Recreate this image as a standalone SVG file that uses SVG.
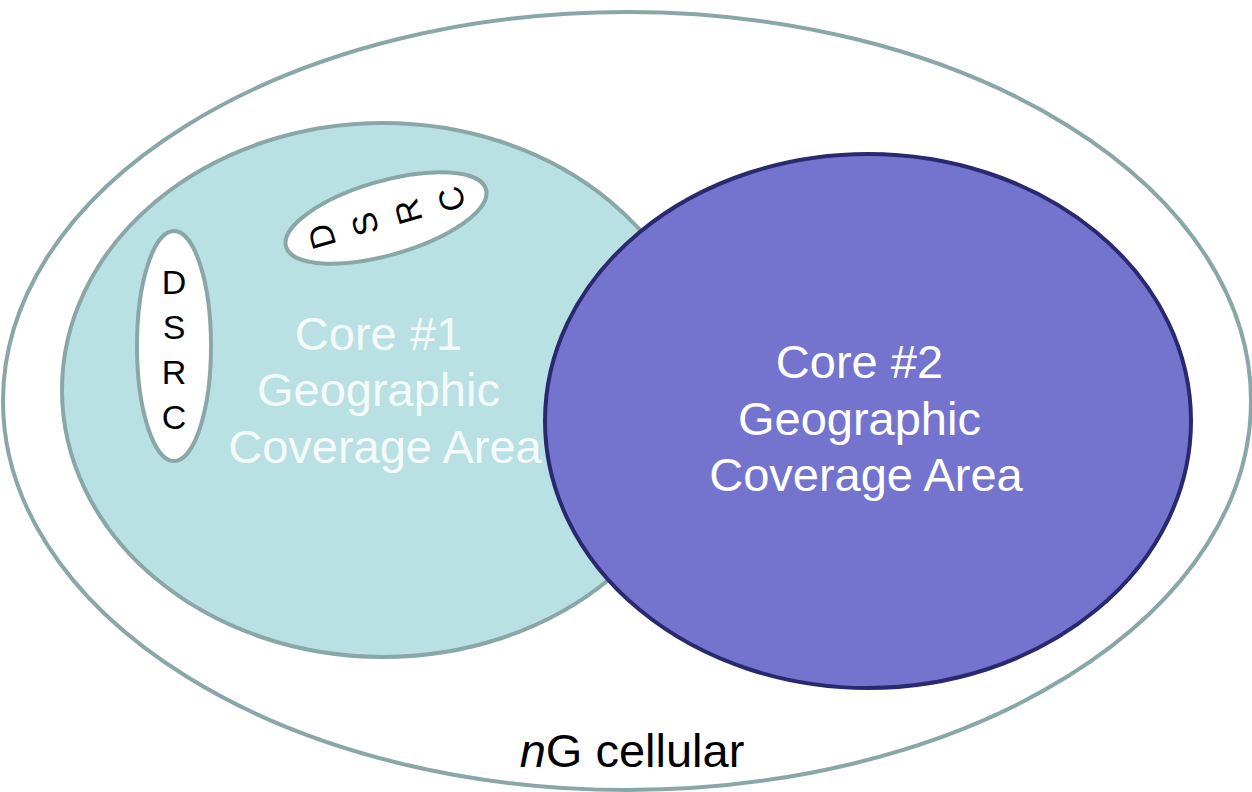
<svg xmlns="http://www.w3.org/2000/svg" width="1252" height="792" viewBox="0 0 1252 792">
  <style>
    .gray { stroke: #8aa7a8; stroke-width: 4; }
    .label { font-family: "Liberation Sans", Arial, sans-serif; font-size: 47px; text-anchor: middle; }
    .dsrc { font-family: "Liberation Sans", Arial, sans-serif; font-size: 34px; text-anchor: middle; fill: #000; }
  </style>
  <rect width="1252" height="792" fill="#ffffff"/>
  <g id="outer">
    <ellipse cx="627" cy="401" rx="624" ry="389" fill="#ffffff" class="gray"/>
    <text x="632" y="767" class="label" fill="#000"><tspan font-style="italic">n</tspan>G cellular</text>
  </g>
  <g id="core1">
    <ellipse cx="383" cy="390" rx="321" ry="267" fill="#b9e0e3" class="gray"/>
    <text class="label" fill="#f4fafa">
      <tspan x="385" y="350">Core #1</tspan>
      <tspan x="385" y="406">Geographic</tspan>
      <tspan x="385" y="463">Coverage Area</tspan>
    </text>
  </g>
  <g id="dsrc-vertical">
    <ellipse cx="174" cy="346" rx="37" ry="115" fill="#ffffff" class="gray"/>
    <text x="174" y="294" class="dsrc">D</text>
    <text x="174" y="339" class="dsrc">S</text>
    <text x="174" y="384" class="dsrc">R</text>
    <text x="174" y="429" class="dsrc">C</text>
  </g>
  <g id="dsrc-tilted" transform="translate(386,218) rotate(-106)">
    <ellipse cx="0" cy="0" rx="37" ry="104" fill="#ffffff" class="gray"/>
    <text x="0" y="-55" class="dsrc">D</text>
    <text x="0" y="-10" class="dsrc">S</text>
    <text x="0" y="35" class="dsrc">R</text>
    <text x="0" y="80" class="dsrc">C</text>
  </g>
  <g id="core2">
    <ellipse cx="868" cy="421" rx="323" ry="267" fill="#7474cf" stroke="#29296f" stroke-width="4"/>
    <text class="label" fill="#ffffff">
      <tspan x="866" y="378">Core #2</tspan>
      <tspan x="866" y="435">Geographic</tspan>
      <tspan x="866" y="491">Coverage Area</tspan>
    </text>
  </g>
  <g id="connectors"/>
</svg>
